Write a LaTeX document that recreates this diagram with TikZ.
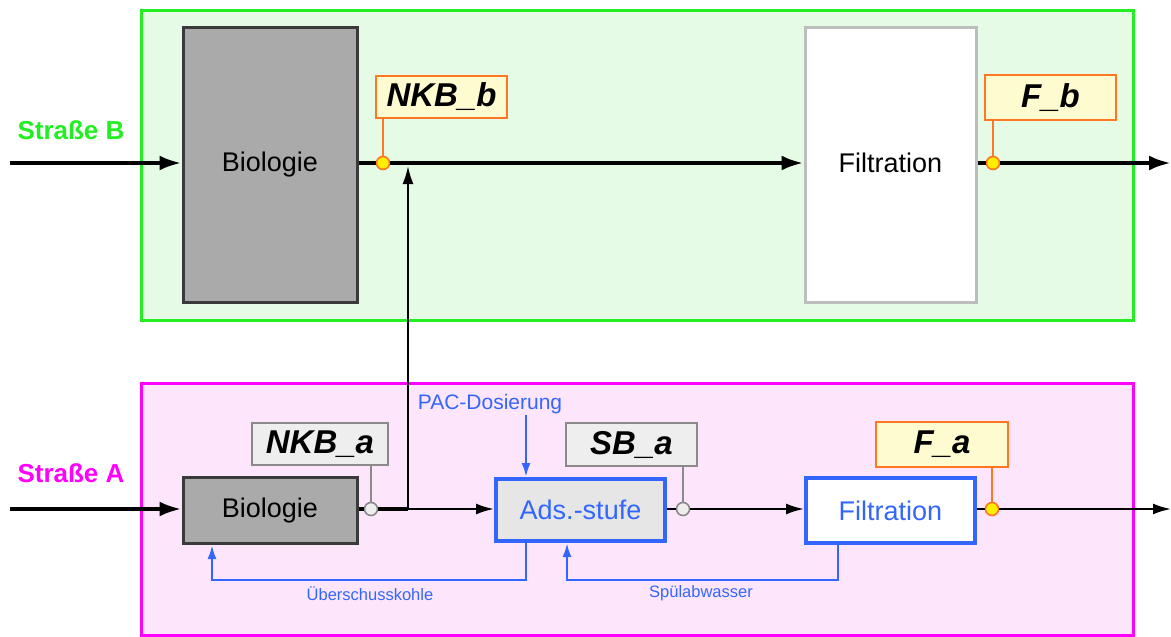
\documentclass[tikz,border=0pt]{standalone}
\usepackage{fontspec}
\setmainfont{Liberation Sans}
\usetikzlibrary{arrows.meta,calc}
\definecolor{frameG}{HTML}{22EE22}
\definecolor{fillG}{HTML}{E6FBE6}
\definecolor{frameM}{HTML}{FF00FF}
\definecolor{fillM}{HTML}{FDE6FB}
\definecolor{bioF}{HTML}{AAAAAA}
\definecolor{bioD}{HTML}{3A3A3A}
\definecolor{filtG}{HTML}{BDBDBD}
\definecolor{blueC}{HTML}{3366FF}
\definecolor{adsF}{HTML}{E6E6E6}
\definecolor{labY}{HTML}{FFFBD0}
\definecolor{labO}{HTML}{FF7722}
\definecolor{labGF}{HTML}{EEEEEE}
\definecolor{labGD}{HTML}{8A8A8A}
\definecolor{dotY}{HTML}{FFEE00}
\tikzset{
  frame/.style={line width=3pt},
  bigbox/.style={draw, line width=3pt, minimum width=174pt, inner sep=0pt, font=\fontsize{27}{30}\selectfont},
  bluebox/.style={draw=blueC, line width=4pt, text=blueC, minimum width=169pt, inner sep=0pt, font=\fontsize{27}{30}\selectfont},
  labO/.style={draw=labO, fill=labY, line width=2pt, inner sep=0pt, font=\fontsize{33}{35}\selectfont\bfseries\itshape},
  labG/.style={draw=labGD, fill=labGF, line width=2pt, inner sep=0pt, font=\fontsize{33}{35}\selectfont\bfseries\itshape},
  dotO/.style={circle, draw=labO, fill=dotY, line width=1.6pt, minimum size=13pt, inner sep=0pt},
  dotG/.style={circle, draw=labGD, fill=labGF, line width=1.6pt, minimum size=13pt, inner sep=0pt},
  mainB/.style={line width=4pt, -{Latex[length=22pt,width=15pt]}},
  mainA/.style={line width=2.2pt, -{Latex[length=18pt,width=11pt]}},
  blueL/.style={draw=blueC, line width=2.5pt, -{Latex[length=14pt,width=9pt]}},
  strasse/.style={font=\fontsize{26}{29}\selectfont\bfseries},
  small/.style={text=blueC, font=\fontsize{16.5}{18}\selectfont},
}
\begin{document}
\begin{tikzpicture}[x=1pt,y=-1pt]
\useasboundingbox (0,0) rectangle (1171,637);
% frames
\draw[frame, draw=frameG, fill=fillG] (141,10) rectangle (1133,320);
\draw[frame, draw=frameM, fill=fillM] (141,383) rectangle (1133,635);
\node[strasse, text=frameG] (sB) at (71,130) {Straße B};
\node[strasse, text=frameM] (sA) at (71,473) {Straße A};
% Strasse B
\node[bigbox, draw=bioD, fill=bioF, minimum height=275pt] (bioB) at (270,164.5) {\raisebox{3pt}{Biologie}};
\node[bigbox, draw=filtG, fill=white, minimum width=171pt, minimum height=275pt] (filB) at (890.5,164.5) {\raisebox{3pt}{Filtration}};
\node[labO, minimum width=131pt, minimum height=42pt] (nkbb) at (441.5,97) {NKB\_b};
\node[labO, minimum width=131pt, minimum height=45pt] (fb) at (1050.5,97.5) {F\_b};
\coordinate (inB) at (10,163);
\coordinate (outB) at (1171,163);
\node[dotO] (cB1) at (383,163) {};
\node[dotO] (cB2) at (993,163) {};
\draw[mainB] (inB) -- (bioB.west |- inB);
\draw[line width=4pt] (bioB.east |- cB1) -- (cB1);
\draw[mainB] (cB1) -- (filB.west |- cB1);
\draw[line width=4pt] (filB.east |- cB2) -- (cB2);
\draw[mainB] (cB2) -- (outB);
\draw[labO, line width=2pt] (cB1) -- (cB1 |- nkbb.south);
\draw[labO, line width=2pt] (cB2) -- (cB2 |- fb.south);
% Strasse A
\node[bigbox, draw=bioD, fill=bioF, minimum height=66pt] (bioA) at (270,510.5) {Biologie};
\node[bluebox, fill=adsF, minimum height=62pt] (ads) at (580.5,510) {Ads.-stufe};
\node[bluebox, fill=white, minimum height=65pt] (filA) at (890.5,510.5) {Filtration};
\node[labG, minimum width=136pt, minimum height=42pt] (nkba) at (320,444) {NKB\_a};
\node[labG, minimum width=131pt, minimum height=43pt] (sba) at (631.5,444.5) {SB\_a};
\node[labO, minimum width=132pt, minimum height=45pt] (fa) at (942,444.5) {F\_a};
\node[dotG] (cA1) at (371,509) {};
\node[dotG] (cA2) at (683,509) {};
\node[dotO] (cA3) at (992,509) {};
\coordinate (inA) at (10,509);
\coordinate (outA) at (1171,509);
\coordinate (jA) at (408,509);
\draw[mainB] (inA) -- (bioA.west |- inA);
\draw[line width=4pt] (bioA.east |- cA1) -- (cA1);
\draw[line width=4pt] (cA1) -- (jA);
\draw[mainA] (jA) -- (ads.west |- jA);
\draw[line width=2.2pt] (ads.east |- cA2) -- (cA2);
\draw[mainA] (cA2) -- (filA.west |- cA2);
\draw[line width=2.2pt] (filA.east |- cA3) -- (cA3);
\draw[mainA] (cA3) -- (outA);
\draw[labGD, line width=2pt] (cA1) -- (cA1 |- nkba.south);
\draw[labGD, line width=2pt] (cA2) -- (cA2 |- sba.south);
\draw[labO, line width=2pt] (cA3) -- (cA3 |- fa.south);
% cross link
\coordinate (jB) at (408,166);
\draw[line width=2.2pt, -{Latex[length=18pt,width=11pt]}] (jA) -- (jB);
% PAC
\node[small, font=\fontsize{21}{24}\selectfont] (pac) at (490,404) {PAC-Dosierung};
\coordinate (pacT) at (526,415);
\draw[blueL] (pacT) -- (pacT |- ads.north);
% feedbacks
\coordinate (f1a) at (526,580);
\coordinate (f1b) at (212,580);
\draw[blueL] (ads.south -| f1a) -- (f1a) -- (f1b) -- (bioA.south -| f1b);
\node[small] (ue) at (370,594) {Überschusskohle};
\coordinate (f2a) at (838,580);
\coordinate (f2b) at (567,580);
\draw[blueL] (filA.south -| f2a) -- (f2a) -- (f2b) -- (ads.south -| f2b);
\node[small] (sp) at (701,593) {Spülabwasser};
\end{tikzpicture}
\end{document}
